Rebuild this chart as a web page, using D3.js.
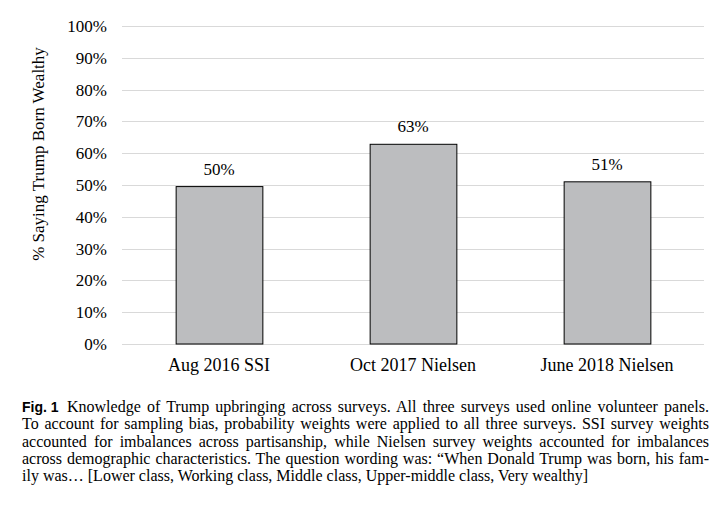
<!DOCTYPE html>
<html>
<head>
<meta charset="utf-8">
<script src="https://cdn.jsdelivr.net/npm/d3@7"></script>
<style>
  html, body { margin: 0; padding: 0; background: #fff; }
  svg { display: block; }
</style>
</head>
<body>
<svg id="chart" width="725" height="509"></svg>
<script>
const categories = ["Aug 2016 SSI", "Oct 2017 Nielsen", "June 2018 Nielsen"];
const values = [0.495, 0.628, 0.510];
const valueLabels = ["50%", "63%", "51%"];
const yTicks = [0, 0.1, 0.2, 0.3, 0.4, 0.5, 0.6, 0.7, 0.8, 0.9, 1.0];
const yTitle = "% Saying Trump Born Wealthy";
const captionLabel = "Fig. 1";
const captionLines = [
  "Knowledge of Trump upbringing across surveys. All three surveys used online volunteer panels.",
  "To account for sampling bias, probability weights were applied to all three surveys. SSI survey weights",
  "accounted for imbalances across partisanship, while Nielsen survey weights accounted for imbalances",
  "across demographic characteristics. The question wording was: \u201cWhen Donald Trump was born, his fam-",
  "ily was\u2026 [Lower class, Working class, Middle class, Upper-middle class, Very wealthy]"
];

const SERIF = '"Liberation Serif"';
const SANS = '"Liberation Sans"';
const svg = d3.select("#chart");
const plot = { left: 122, right: 704, top: 26, bottom: 344 };

const x = d3.scaleBand().domain(categories).range([plot.left, plot.right])
  .paddingInner(0.553).paddingOuter(0.2765);
const y = d3.scaleLinear().domain([0, 1]).range([plot.bottom, plot.top]);

// gridlines
svg.append("g").selectAll("line").data(yTicks).join("line")
  .attr("x1", plot.left).attr("x2", plot.right)
  .attr("y1", d => Math.round(y(d)) + 0.5).attr("y2", d => Math.round(y(d)) + 0.5)
  .attr("stroke", "#d9d9d9").attr("stroke-width", 1);

// y axis labels
const yAxis = d3.axisLeft(y).tickValues(yTicks).tickFormat(d3.format(".0%")).tickSize(0).tickPadding(0);
const ya = svg.append("g").attr("transform", `translate(${plot.left - 15},0)`).call(yAxis);
ya.attr("font-family", null).attr("font-size", null);
ya.select(".domain").remove();
ya.selectAll("text").style("font-family", SERIF).style("font-size", "17px").attr("fill", "#000");

// bars
svg.append("g").selectAll("rect").data(categories).join("rect")
  .attr("x", d => x(d) + 0.5)
  .attr("width", x.bandwidth())
  .attr("y", (d, i) => y(values[i]))
  .attr("height", (d, i) => y(0) - y(values[i]))
  .attr("fill", "#bcbdbf").attr("stroke", "#000").attr("stroke-width", 1);

// value labels
svg.append("g").selectAll("text").data(categories).join("text")
  .attr("x", d => x(d) + x.bandwidth() / 2)
  .attr("y", (d, i) => y(values[i]) - 12)
  .attr("text-anchor", "middle")
  .style("font-family", SERIF).style("font-size", "17px").attr("fill", "#000")
  .text((d, i) => valueLabels[i]);

// x axis labels
const xAxis = d3.axisBottom(x).tickSize(0).tickPadding(0);
const xa = svg.append("g").attr("transform", `translate(0,${plot.bottom + 14})`).call(xAxis);
xa.attr("font-family", null).attr("font-size", null);
xa.select(".domain").remove();
xa.selectAll("text").style("font-family", SERIF).style("font-size", "18px").attr("fill", "#000");

// y title
svg.append("text")
  .attr("transform", `translate(44,154) rotate(-90)`)
  .attr("text-anchor", "middle")
  .style("font-family", SERIF).style("font-size", "17px").attr("fill", "#000")
  .text(yTitle);

// caption
const capLeft = 22, capRight = 709, capTop = 412, capStep = 17.3;
svg.append("text")
  .attr("x", capLeft).attr("y", capTop)
  .style("font-family", SANS).style("font-weight", "bold").style("font-size", "14px").attr("fill", "#000")
  .text(captionLabel);

captionLines.forEach((line, i) => {
  const startX = i === 0 ? 67 : capLeft;
  const t = svg.append("text")
    .attr("x", startX).attr("y", capTop + i * capStep)
    .style("font-family", SERIF).style("font-size", "16px").attr("fill", "#000")
    .style("white-space", "pre")
    .text(line);
  if (i < captionLines.length - 1) {
    const w = t.node().getComputedTextLength();
    const spaces = (line.match(/ /g) || []).length;
    const extra = (capRight - startX - w) / spaces;
    t.style("word-spacing", extra + "px");
  }
});
</script>
</body>
</html>
